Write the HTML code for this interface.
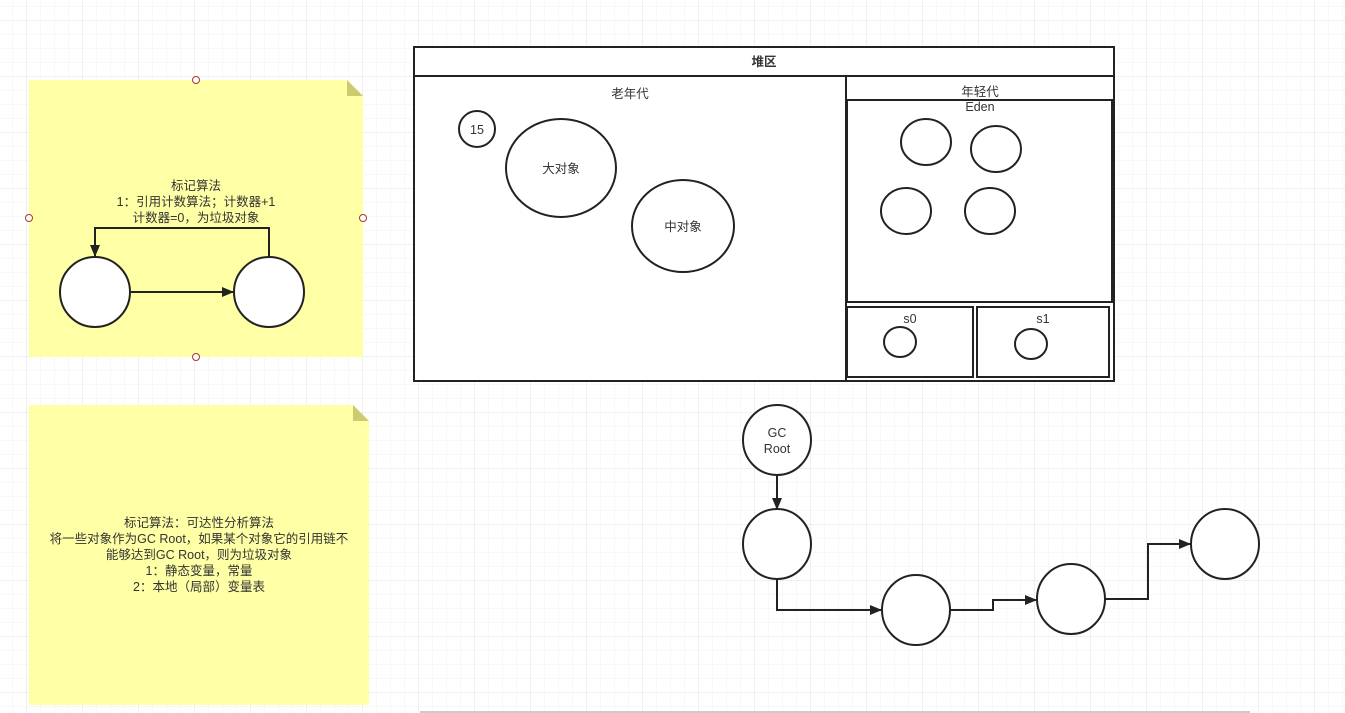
<!DOCTYPE html>
<html><head><meta charset="utf-8"><style>
html,body{margin:0;padding:0;background:#fff;}
svg{display:block;font-family:"Liberation Sans","Noto Sans CJK SC",sans-serif;}
</style></head><body>
<svg width="1345" height="713" viewBox="0 0 1345 713" xmlns="http://www.w3.org/2000/svg">
<defs>
<pattern id="minor" width="14" height="14" patternUnits="userSpaceOnUse" x="13" y="7">
<path d="M14 0V14M0 14H14" fill="none" stroke="#f0f0f0" stroke-width="1"/>
</pattern>
<pattern id="major" width="56" height="56" patternUnits="userSpaceOnUse" x="27" y="21">
<path d="M56 0V56M0 56H56" fill="none" stroke="#e2e2e2" stroke-width="1"/>
</pattern>
<marker id="ar" markerWidth="12" markerHeight="10" refX="11" refY="5" orient="auto" markerUnits="userSpaceOnUse">
<path d="M0 0L12 5L0 10Z" fill="#222"/>
</marker>
</defs>
<rect width="1345" height="713" fill="url(#minor)"/>
<rect width="1345" height="713" fill="url(#major)"/>
<line x1="420" y1="712" x2="1250" y2="712" stroke="#ccc" stroke-width="2"/>

<!-- sticky 1 -->
<path d="M29 80H347L363 96V357H29Z" fill="#ffffa6"/>
<path d="M347 80L363 96H347Z" fill="#cccc6e"/>
<g font-size="12.5" fill="#333" text-anchor="middle">
<text x="196" y="190">标记算法</text>
<text x="196" y="206">1：引用计数算法；计数器+1</text>
<text x="196" y="222">计数器=0，为垃圾对象</text>
</g>
<g stroke="#222" stroke-width="2" fill="#fff">
<circle cx="95" cy="292" r="35"/>
<circle cx="269" cy="292" r="35"/>
</g>
<g stroke="#222" stroke-width="2" fill="none" marker-end="url(#ar)">
<path d="M130 292L233 292"/>
<path d="M269 257V228H95V256"/>
</g>
<g stroke="#a33" stroke-width="1" fill="#fff">
<circle cx="196" cy="80" r="3.5"/><circle cx="29" cy="218" r="3.5"/>
<circle cx="363" cy="218" r="3.5"/><circle cx="196" cy="357" r="3.5"/>
</g>

<!-- sticky 2 -->
<path d="M29 405H353L369 421V705H29Z" fill="#ffffa6"/>
<path d="M353 405L369 421H353Z" fill="#cccc6e"/>
<g font-size="12.5" fill="#333" text-anchor="middle">
<text x="199" y="527">标记算法：可达性分析算法</text>
<text x="199" y="543">将一些对象作为GC Root，如果某个对象它的引用链不</text>
<text x="199" y="559">能够达到GC Root，则为垃圾对象</text>
<text x="199" y="575">1：静态变量，常量</text>
<text x="199" y="591">2：本地（局部）变量表</text>
</g>

<!-- heap -->
<g stroke="#222" stroke-width="2" fill="#fff">
<rect x="414" y="47" width="700" height="334"/>
<line x1="414" y1="76" x2="1114" y2="76"/>
<rect x="414" y="76" width="432" height="305"/>
<line x1="846" y1="100" x2="1114" y2="100"/>
<rect x="847" y="100" width="265" height="202"/>
<rect x="847" y="307" width="126" height="70"/>
<rect x="977" y="307" width="132" height="70"/>
</g>
<g font-size="12.5" fill="#333" text-anchor="middle">
<text x="764" y="66" font-weight="bold">堆区</text>
<text x="630" y="98">老年代</text>
<text x="980" y="96">年轻代</text>
<text x="980" y="111">Eden</text>
<text x="910" y="323">s0</text>
<text x="1043" y="323">s1</text>
</g>
<g stroke="#222" stroke-width="2" fill="#fff">
<circle cx="477" cy="129" r="18"/>
<ellipse cx="561" cy="168" rx="55" ry="49"/>
<ellipse cx="683" cy="226" rx="51" ry="46"/>
<ellipse cx="926" cy="142" rx="25" ry="23"/>
<ellipse cx="996" cy="149" rx="25" ry="23"/>
<ellipse cx="906" cy="211" rx="25" ry="23"/>
<ellipse cx="990" cy="211" rx="25" ry="23"/>
<ellipse cx="900" cy="342" rx="16" ry="15"/>
<ellipse cx="1031" cy="344" rx="16" ry="15"/>
</g>
<g font-size="12.5" fill="#333" text-anchor="middle">
<text x="477" y="134">15</text>
<text x="561" y="173">大对象</text>
<text x="683" y="231">中对象</text>
</g>

<!-- GC root chain -->
<g stroke="#222" stroke-width="2" fill="#fff">
<ellipse cx="777" cy="440" rx="34" ry="35"/>
<ellipse cx="777" cy="544" rx="34" ry="35"/>
<ellipse cx="916" cy="610" rx="34" ry="35"/>
<ellipse cx="1071" cy="599" rx="34" ry="35"/>
<ellipse cx="1225" cy="544" rx="34" ry="35"/>
</g>
<g font-size="12.5" fill="#333" text-anchor="middle">
<text x="777" y="437">GC</text>
<text x="777" y="453">Root</text>
</g>
<g stroke="#222" stroke-width="2" fill="none" marker-end="url(#ar)">
<path d="M777 475V509"/>
<path d="M777 579V610H881"/>
<path d="M950 610H993V600H1036"/>
<path d="M1105 599H1148V544H1190"/>
</g>
</svg>
</body></html>
